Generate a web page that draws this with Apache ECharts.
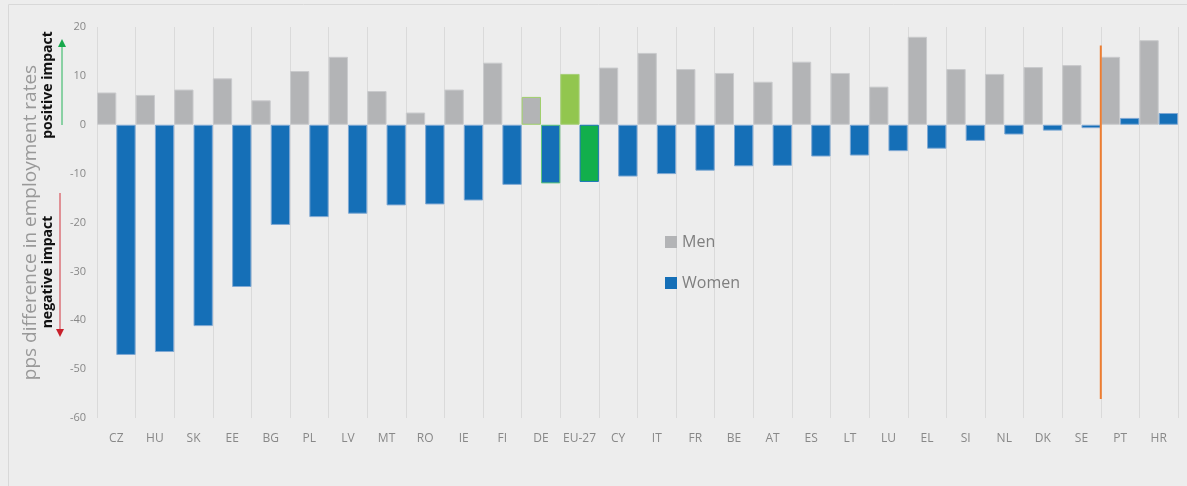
<!DOCTYPE html>
<html>
<head>
<meta charset="utf-8">
<script src="https://cdn.jsdelivr.net/npm/echarts@6/dist/echarts.min.js"></script>
<style>
  html, body { margin: 0; padding: 0; background: #ededed; }
  #chart { width: 1187px; height: 486px; }
</style>
</head>
<body>
<div id="chart"></div>
<script>
// countries, sorted by the women's impact
const countries = ['CZ', 'HU', 'SK', 'EE', 'BG', 'PL', 'LV', 'MT', 'RO', 'IE', 'FI', 'DE', 'EU-27', 'CY',
  'IT', 'FR', 'BE', 'AT', 'ES', 'LT', 'LU', 'EL', 'SI', 'NL', 'DK', 'SE', 'PT', 'HR'];
const men = [6.6, 6.1, 7.2, 9.5, 5.0, 11.0, 13.9, 6.9, 2.5, 7.2, 12.7, 5.7, 10.4, 11.7,
  14.7, 11.4, 10.6, 8.8, 12.9, 10.6, 7.8, 18.0, 11.4, 10.4, 11.8, 12.2, 13.9, 17.3];
const women = [-47.1, -46.5, -41.2, -33.2, -20.5, -18.9, -18.2, -16.5, -16.3, -15.5, -12.3, -12.0, -11.7, -10.6,
  -10.1, -9.4, -8.5, -8.4, -6.5, -6.3, -5.4, -4.9, -3.3, -2.0, -1.2, -0.7, 1.4, 2.4];
// separator between SE and PT (position on a 0..28 scale)
const separatorX = 26;
const separatorRange = [16.2, -56.1];

const chart = echarts.init(document.getElementById('chart'));

const menData = men.map((v, i) => {
  let item = { value: v };
  if (countries[i] === 'EU-27') {
    item.itemStyle = { color: '#92c64f', borderColor: '#a6cf77' };
  } else if (countries[i] === 'DE') {
    item.itemStyle = { borderColor: '#9fcf6a' };
  }
  return item;
});
const womenData = women.map((v, i) => {
  let item = { value: v };
  if (countries[i] === 'EU-27') {
    item.itemStyle = { color: '#12af4c', borderColor: '#1c74b8' };
  } else if (countries[i] === 'DE') {
    item.itemStyle = { borderColor: '#5fc57a' };
  }
  return item;
});

const option = {
  backgroundColor: '#ededed',
  textStyle: { fontFamily: 'Open Sans' },
  animation: false,
  grid: { left: 97, right: 9, top: 27, bottom: 68 },
  legend: {
    orient: 'vertical',
    left: 660,
    top: 229,
    itemGap: 25,
    itemWidth: 12,
    itemHeight: 12,
    icon: 'rect',
    itemStyle: { borderWidth: 0 },
    textStyle: { fontSize: 16, color: '#7f7f7f' },
    data: ['Men', 'Women'],
  },
  xAxis: [
    {
      type: 'category',
      data: countries,
      position: 'bottom',
      axisLine: { show: false, onZero: false },
      axisTick: { show: false },
      axisLabel: { color: '#888', fontSize: 12, margin: 15, interval: 0 },
      splitLine: { show: true, lineStyle: { color: '#dadada', width: 1 } },
    },
    {
      type: 'value',
      min: 0,
      max: 28,
      show: false,
    },
  ],
  yAxis: {
    type: 'value',
    min: -60,
    max: 20,
    interval: 10,
    name: 'pps difference in employment rates',
    nameLocation: 'middle',
    nameGap: 57,
    nameTextStyle: { fontSize: 19, color: '#999' },
    axisLine: { show: false },
    axisTick: { show: false },
    splitLine: { show: false },
    axisLabel: { color: '#888', fontSize: 11, margin: 11 },
  },
  graphic: [
    // outer frame
    { type: 'rect', shape: { x: 8.5, y: 4.5, width: 1200, height: 500 },
      style: { fill: 'none', stroke: '#d8d8d8', lineWidth: 1 }, silent: true },
    // positive impact
    { type: 'text', x: 48, y: 85, rotation: Math.PI / 2,
      style: { text: 'positive impact', font: 'bold 14px "Open Sans"', fill: '#111', align: 'center', verticalAlign: 'middle' } },
    { type: 'line', shape: { x1: 62, y1: 125, x2: 62, y2: 46 }, style: { stroke: '#27b45a', lineWidth: 1 } },
    { type: 'polygon', shape: { points: [[58, 47], [66, 47], [62, 39]] }, style: { fill: '#17a84b' } },
    // negative impact
    { type: 'text', x: 48, y: 272, rotation: Math.PI / 2,
      style: { text: 'negative impact', font: 'bold 14px "Open Sans"', fill: '#111', align: 'center', verticalAlign: 'middle' } },
    { type: 'line', shape: { x1: 60, y1: 193, x2: 60, y2: 330 }, style: { stroke: '#d3343e', lineWidth: 1 } },
    { type: 'polygon', shape: { points: [[56, 329], [64, 329], [60, 337]] }, style: { fill: '#c8202b' } },
  ],
  series: [
    {
      name: 'Men',
      type: 'bar',
      data: menData,
      barGap: '0%',
      barCategoryGap: '0%',
      itemStyle: { color: '#b3b4b6', borderColor: '#c9cacc', borderWidth: 1 },
    },
    {
      name: 'Women',
      type: 'bar',
      data: womenData,
      barGap: '0%',
      barCategoryGap: '0%',
      itemStyle: { color: '#156fb7', borderColor: '#7fa8d3', borderWidth: 1 },
    },
    {
      type: 'line',
      xAxisIndex: 1,
      data: separatorRange.map((y) => [separatorX, y]),
      symbol: 'none',
      lineStyle: { color: '#ed7d31', width: 2 },
      silent: true,
    },
  ],
};

chart.setOption(option);
</script>
</body>
</html>
